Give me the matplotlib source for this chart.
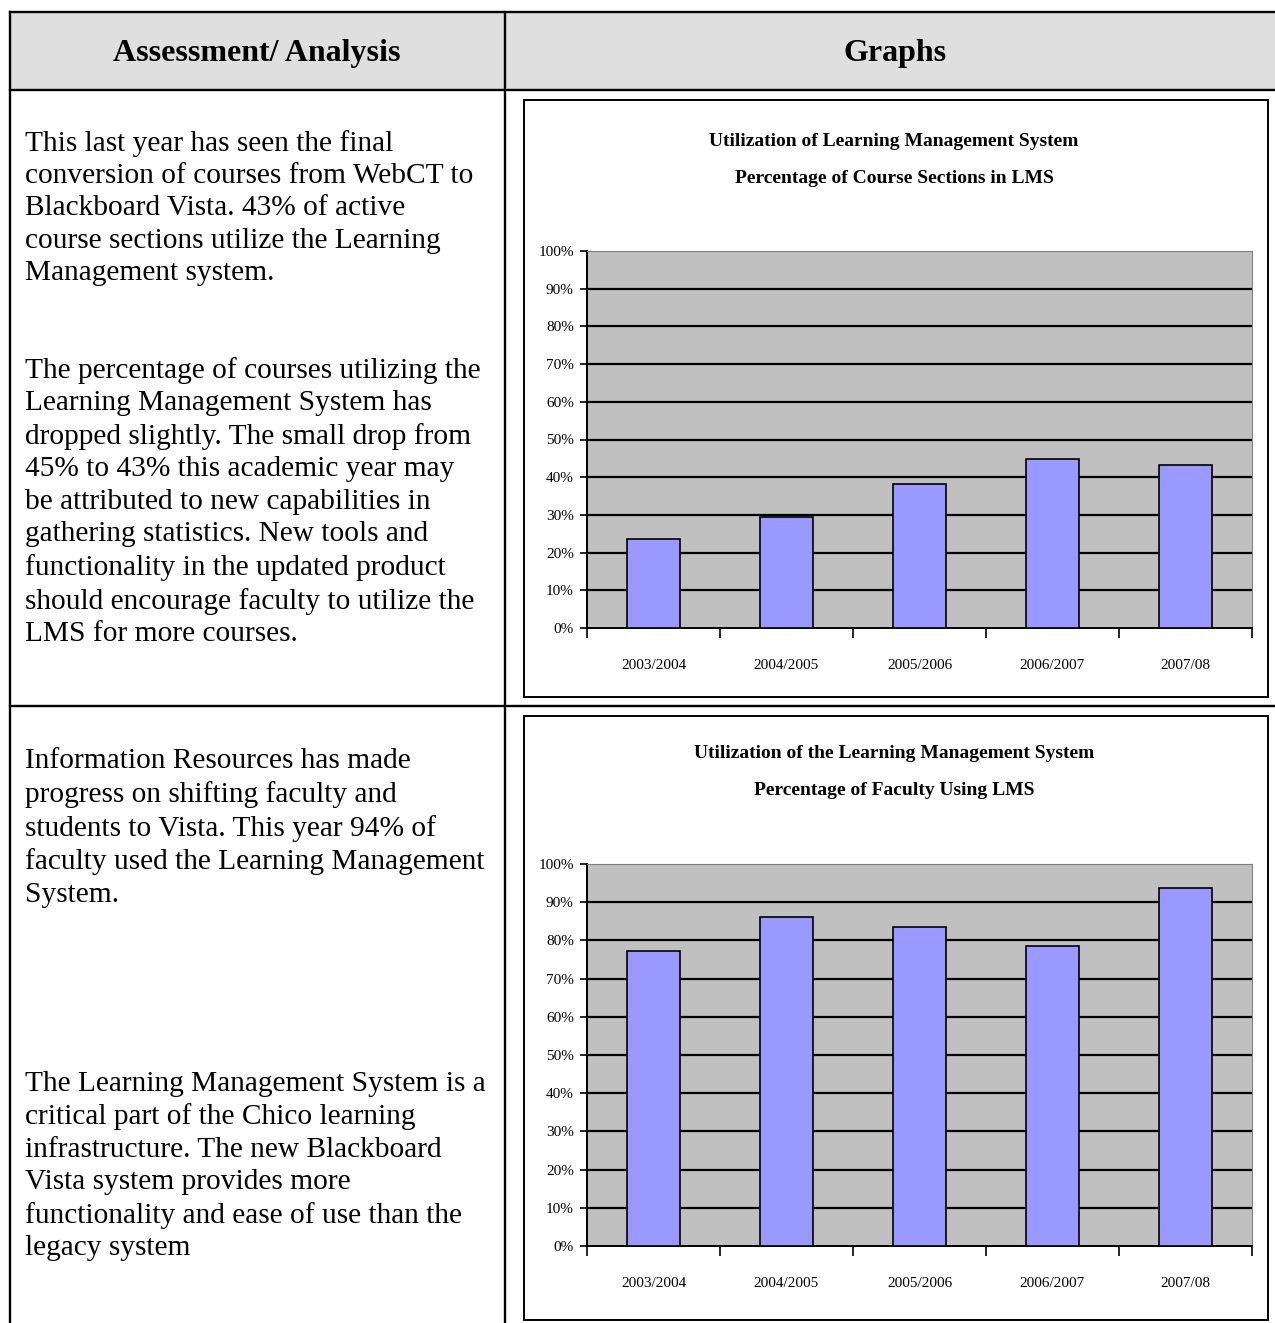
import matplotlib.pyplot as plt
import matplotlib.patches as mpatches
from matplotlib.lines import Line2D
from matplotlib.ticker import FixedLocator, PercentFormatter

# data
years = ['2003/2004', '2004/2005', '2005/2006', '2006/2007', '2007/08']
course_sections_pct = [23.7, 29.5, 38.3, 44.8, 43.3]
faculty_pct = [77.1, 86.0, 83.5, 78.6, 93.7]

title_sections = 'Utilization of Learning Management System\nPercentage of Course Sections in LMS'
title_faculty = 'Utilization of the Learning Management System\nPercentage of Faculty Using LMS'

header_left = 'Assessment/ Analysis'
header_right = 'Graphs'

para_1 = ('This last year has seen the final\n'
          'conversion of courses from WebCT to\n'
          'Blackboard Vista. 43% of active\n'
          'course sections utilize the Learning\n'
          'Management system.')
para_2 = ('The percentage of courses utilizing the\n'
          'Learning Management System has\n'
          'dropped slightly. The small drop from\n'
          '45% to 43% this academic year may\n'
          'be attributed to new capabilities in\n'
          'gathering statistics. New tools and\n'
          'functionality in the updated product\n'
          'should encourage faculty to utilize the\n'
          'LMS for more courses.')
para_3 = ('Information Resources has made\n'
          'progress on shifting faculty and\n'
          'students to Vista. This year 94% of\n'
          'faculty used the Learning Management\n'
          'System.')
para_4 = ('The Learning Management System is a\n'
          'critical part of the Chico learning\n'
          'infrastructure. The new Blackboard\n'
          'Vista system provides more\n'
          'functionality and ease of use than the\n'
          'legacy system')

W, H = 1275, 1323
plt.rcParams['font.family'] = ['Liberation Serif', 'DejaVu Serif']

fig = plt.figure(figsize=(W / 100, H / 100), dpi=100)


def fx(x):
    return x / W


def fy(y):
    return 1 - y / H


def hline(x0, x1, y, lw=1.7, color='black'):
    fig.add_artist(Line2D([fx(x0), fx(x1)], [fy(y), fy(y)], color=color, lw=lw))


def vline(x, y0, y1, lw=1.7, color='black'):
    fig.add_artist(Line2D([fx(x), fx(x)], [fy(y0), fy(y1)], color=color, lw=lw))


# table header
fig.add_artist(mpatches.Rectangle((fx(10), fy(90)), fx(W) - fx(10), fy(12) - fy(90),
                                  facecolor='#dfdfdf', edgecolor='none'))
hline(10, W, 12)
hline(10, W, 90)
hline(10, W, 706)
vline(10, 12, H)
vline(505, 12, H)

fig.text(fx(257), fy(53), header_left, ha='center', va='center',
         fontsize=23, fontweight='bold')
fig.text(fx(895), fy(53), header_right, ha='center', va='center',
         fontsize=23, fontweight='bold')

# left column text
for txt, yc in [(para_1, 208), (para_2, 502), (para_3, 828), (para_4, 1166)]:
    fig.text(fx(25), fy(yc), txt, ha='left', va='center', fontsize=21.2,
             linespacing=1.32)


def draw_chart(box, plot, values, title, title_y):
    bx0, by0, bx1, by1 = box
    fig.add_artist(mpatches.Rectangle((fx(bx0), fy(by1)), fx(bx1) - fx(bx0),
                                      fy(by0) - fy(by1), facecolor='none',
                                      edgecolor='black', lw=1.4))
    fig.text(fx(894), fy(title_y), title, ha='center', va='center',
             fontsize=14, fontweight='bold', linespacing=2.5)

    px0, py0, px1, py1 = plot
    ax = fig.add_axes([fx(px0), fy(py1), fx(px1) - fx(px0), fy(py0) - fy(py1)])
    ax.set_facecolor('#c0c0c0')
    x = range(len(years))
    ax.bar(x, [v / 100 for v in values], width=0.4, color='#9999ff',
           edgecolor='black', lw=1.2, zorder=3)
    ax.set_xlim(-0.5, len(years) - 0.5)
    ax.set_ylim(0, 1)
    ax.yaxis.set_major_locator(FixedLocator([i / 10 for i in range(11)]))
    ax.yaxis.set_major_formatter(PercentFormatter(1.0, decimals=0))
    for yv in [i / 10 for i in range(1, 10)]:
        ax.axhline(yv, color='black', lw=1.6, zorder=1)
    ax.set_xticks(list(x))
    ax.set_xticklabels(years)
    ax.set_xticks([i - 0.5 for i in range(len(years) + 1)], minor=True)
    ax.tick_params(axis='x', which='major', length=0, pad=22, labelsize=11)
    ax.tick_params(axis='x', which='minor', length=7, width=1.2, direction='out')
    ax.tick_params(axis='y', length=5, width=1.2, direction='out', pad=4.5,
                   labelsize=11)
    ax.spines['left'].set_linewidth(1.4)
    ax.spines['bottom'].set_linewidth(1.4)
    ax.spines['top'].set_color('#808080')
    ax.spines['right'].set_color('#808080')
    return ax


draw_chart((524, 100, 1268, 697), (587, 251, 1252, 628),
           course_sections_pct, title_sections, 160)
draw_chart((524, 716, 1268, 1320), (587, 864, 1252, 1246),
           faculty_pct, title_faculty, 772)

fig.savefig('out.png', dpi=100)
